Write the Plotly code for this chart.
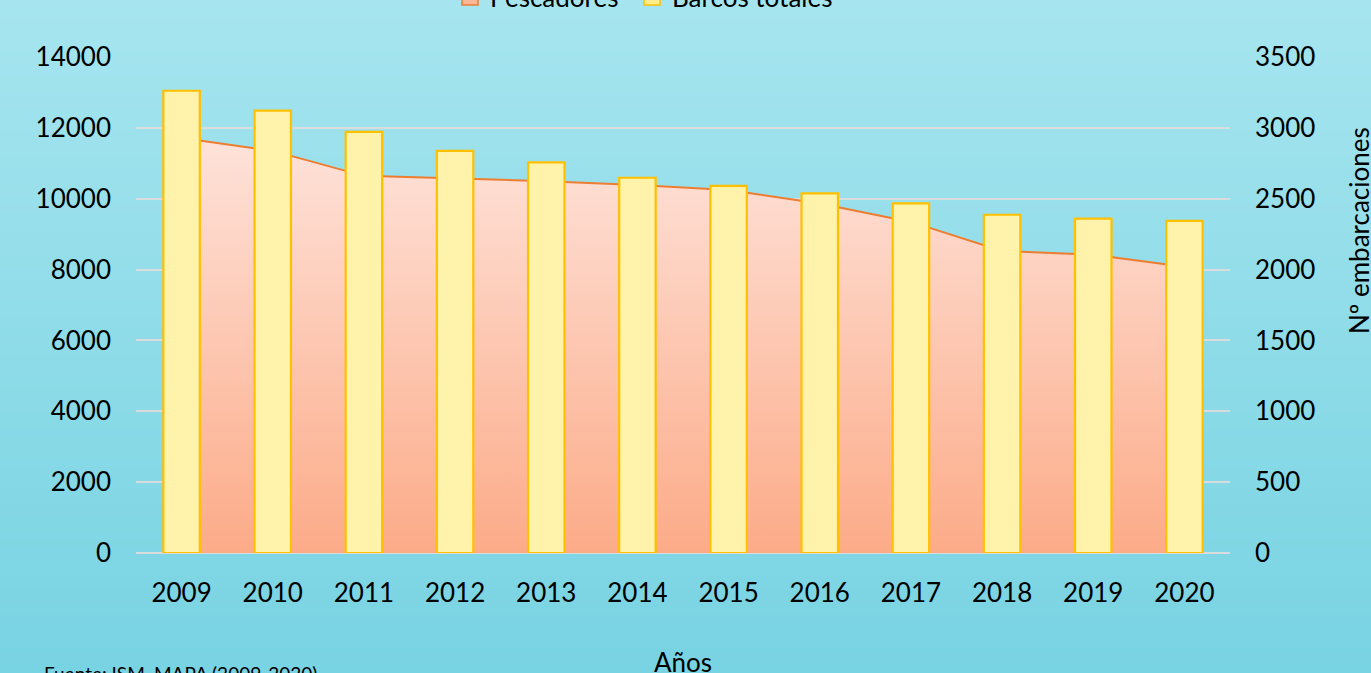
import zlib, struct, base64
import plotly.graph_objects as go

# ---- data ----
years = ["2009", "2010", "2011", "2012", "2013", "2014", "2015", "2016", "2017", "2018", "2019", "2020"]
pescadores = [11715, 11350, 10645, 10580, 10495, 10390, 10245, 9865, 9345, 8525, 8420, 8080]
barcos_totales = [3262, 3121, 2971, 2837, 2757, 2648, 2590, 2538, 2467, 2387, 2359, 2343]
left_ticks = [0, 2000, 4000, 6000, 8000, 10000, 12000, 14000]
right_ticks = [0, 500, 1000, 1500, 2000, 2500, 3000, 3500]

W, H = 1371, 673
ML, MR, MT, MB = 136, 141, 57, 120
PW, PH = W - ML - MR, H - MT - MB

FONT = "Lato"


def png_gradient(h, top, bot):
    raw = b""
    for i in range(h):
        t = i / (h - 1)
        c = [round(top[k] + (bot[k] - top[k]) * t) for k in range(3)]
        raw += b"\x00" + bytes(c)

    def chunk(tag, data):
        return (struct.pack(">I", len(data)) + tag + data +
                struct.pack(">I", zlib.crc32(tag + data) & 0xffffffff))

    ihdr = struct.pack(">IIBBBBB", 1, h, 8, 2, 0, 0, 0)
    png = (b"\x89PNG\r\n\x1a\n" + chunk(b"IHDR", ihdr) +
           chunk(b"IDAT", zlib.compress(raw)) + chunk(b"IEND", b""))
    return "data:image/png;base64," + base64.b64encode(png).decode()


bg = png_gradient(256, (166, 229, 239), (120, 211, 226))


def px_x(p):
    return (p - ML) / PW


def px_y(p):
    return (MT + PH - p) / PH


fig = go.Figure()

# area: fishermen (left axis)
fig.add_trace(go.Scatter(
    x=years, y=pescadores, name="Pescadores", mode="lines",
    line=dict(color="#ed7d31", width=2),
    fill="tozeroy",
    fillgradient=dict(type="vertical", colorscale=[[0, "#fcab88"], [1, "#fee4dc"]],
                      start=0, stop=12000),
    yaxis="y", showlegend=False,
))

# bars: total boats (right axis)
fig.add_trace(go.Bar(
    x=years, y=barcos_totales, name="Barcos totales",
    marker=dict(color="#fff2aa", line=dict(color="#ffc000", width=2.2)),
    yaxis="y2", showlegend=False,
))

# legend swatches (square keys as in the original)
fig.add_trace(go.Scatter(
    x=[None], y=[None], name="Pescadores", mode="markers",
    marker=dict(symbol="square", size=16, color="#fcb797",
                line=dict(color="#ed7d31", width=1.5)),
    yaxis="y", hoverinfo="skip", legend="legend",
))
fig.add_trace(go.Scatter(
    x=[None], y=[None], name="Barcos totales", mode="markers",
    marker=dict(symbol="square", size=16, color="#ffec8a",
                line=dict(color="#ffc000", width=1.5)),
    yaxis="y", hoverinfo="skip", legend="legend2",
))

legend_common = dict(orientation="h", xanchor="left", y=px_y(-3), yanchor="middle",
                     itemsizing="trace", bgcolor="rgba(0,0,0,0)",
                     font=dict(family=FONT, size=26, color="#000000"))

fig.update_layout(
    width=W, height=H,
    margin=dict(l=ML, r=MR, t=MT, b=MB, autoexpand=False),
    paper_bgcolor="#8fdae7",
    plot_bgcolor="rgba(0,0,0,0)",
    font=dict(family=FONT, size=26, color="#000000"),
    bargap=0.6,
    barmode="overlay",
    showlegend=True,
    legend=dict(x=px_x(450), **legend_common),
    legend2=dict(x=px_x(632), **legend_common),
    xaxis=dict(type="category", categoryorder="array", categoryarray=years,
               range=[-0.5, 11.5], showgrid=False, showline=False, zeroline=False,
               ticks="", ticklabelstandoff=22,
               tickfont=dict(family=FONT, size=26, color="#000000")),
    yaxis=dict(range=[0, 14000], tickvals=left_ticks, tickformat="d", showgrid=True,
               gridcolor="rgba(220,220,220,0.95)", gridwidth=1.5,
               zeroline=True, zerolinecolor="rgba(220,220,220,0.95)", zerolinewidth=2,
               showline=False, ticks="", ticklabelstandoff=24,
               tickfont=dict(family=FONT, size=26, color="#000000")),
    yaxis2=dict(range=[0, 3500], tickvals=right_ticks, tickformat="d", overlaying="y", side="right",
                showgrid=False, zeroline=False, showline=False, ticks="",
                ticklabelstandoff=24,
                tickfont=dict(family=FONT, size=26, color="#000000")),
    images=[dict(source=bg, xref="paper", yref="paper",
                 x=-ML / PW, y=1 + MT / PH, sizex=W / PW, sizey=H / PH,
                 sizing="stretch", layer="below", xanchor="left", yanchor="top")],
    annotations=[
        dict(text="Años", xref="paper", yref="paper", x=0.5, y=px_y(662),
             xanchor="center", yanchor="middle", showarrow=False,
             font=dict(family=FONT, size=26, color="#000000")),
        dict(text="Nº embarcaciones", xref="paper", yref="paper", x=px_x(1359), y=px_y(231),
             xanchor="center", yanchor="middle", textangle=-90, showarrow=False,
             font=dict(family=FONT, size=26, color="#000000")),
        dict(text="Fuente: ISM, MAPA (2009-2020)", xref="paper", yref="paper",
             x=px_x(42), y=px_y(660), xanchor="left", yanchor="top", showarrow=False,
             font=dict(family=FONT, size=19, color="#000000")),
    ],
)

fig.write_html("out.html", config={"displayModeBar": False},
               post_script="document.body.style.margin='0px';document.body.style.overflow='hidden';")
